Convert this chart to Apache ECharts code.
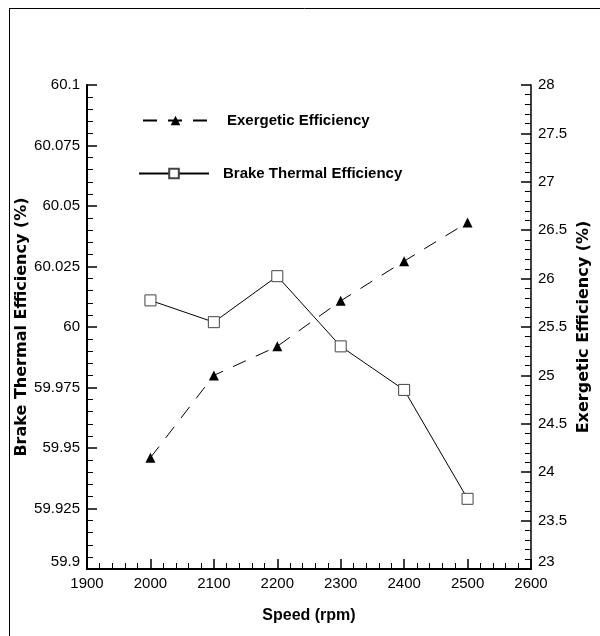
<!DOCTYPE html>
<html>
<head>
<meta charset="utf-8">
<script src="https://cdn.jsdelivr.net/npm/echarts@6/dist/echarts.min.js"></script>
<style>
  html, body { margin: 0; padding: 0; background: #fff; }
  #chart { width: 600px; height: 636px; }
</style>
</head>
<body>
<div id="chart"></div>
<script>
// Engine speed (rpm)
const speeds = [2000, 2100, 2200, 2300, 2400, 2500];
// Brake thermal efficiency (%), left axis
const brakeThermal = [60.011, 60.002, 60.021, 59.992, 59.974, 59.929];
// Exergetic efficiency (%), right axis
const exergetic = [24.15, 25.0, 25.30, 25.77, 26.18, 26.58];

const seriesNames = ['Exergetic Efficiency', 'Brake Thermal Efficiency'];

const FONT = "'Liberation Sans', Arial, Helvetica, sans-serif";
const TITLE_FONT = "'DejaVu Sans', 'Liberation Sans', sans-serif";

function pairs(xs, ys) {
  return xs.map((x, i) => [x, ys[i]]);
}

const tickLabel = { color: '#000', fontSize: 15, fontFamily: FONT };

const chart = echarts.init(document.getElementById('chart'), null, { renderer: 'canvas' });

chart.setOption({
  animation: false,
  backgroundColor: '#fff',
  grid: { left: 87, right: 69, top: 85, bottom: 67, containLabel: false },
  graphic: [
    // outer frame (top and left edges)
    { type: 'line', shape: { x1: 9, y1: 8.5, x2: 600, y2: 8.5 }, style: { stroke: '#000', lineWidth: 1 } },
    { type: 'line', shape: { x1: 9.5, y1: 8, x2: 9.5, y2: 636 }, style: { stroke: '#000', lineWidth: 1 } }
  ],
  legend: [
    {
      data: [seriesNames[0]],
      left: 142, top: 113, padding: 0,
      itemWidth: 65, itemHeight: 12,
      textStyle: { color: '#000', fontSize: 15, fontWeight: 'bold', fontFamily: FONT, padding: [0, 0, 0, 14] }
    },
    {
      data: [seriesNames[1]],
      left: 138, top: 166, padding: 0,
      itemWidth: 70, itemHeight: 12,
      textStyle: { color: '#000', fontSize: 15, fontWeight: 'bold', fontFamily: FONT, padding: [0, 0, 0, 9] }
    }
  ],
  xAxis: {
    type: 'value',
    min: 1900, max: 2600, interval: 100,
    name: 'Speed (rpm)',
    nameLocation: 'middle', nameGap: 39, nameMoveOverlap: false,
    nameTextStyle: { color: '#000', fontSize: 16, fontWeight: 'bold', fontFamily: FONT },
    axisLine: { show: true, onZero: false, lineStyle: { color: '#000', width: 2 } },
    axisTick: { show: true, inside: true, length: 10, lineStyle: { color: '#000', width: 1.5 } },
    minorTick: { show: true, splitNumber: 5, length: 6, lineStyle: { color: '#000', width: 1 } },
    axisLabel: Object.assign({
      margin: 7, showMinLabel: true, showMaxLabel: true,
      formatter: v => String(v)
    }, tickLabel),
    splitLine: { show: false }
  },
  yAxis: [
    {
      type: 'value',
      position: 'left',
      min: 59.9, max: 60.1, interval: 0.025,
      name: 'Brake Thermal Efficiency (%)',
      nameLocation: 'middle', nameGap: 57, nameRotate: 90, nameMoveOverlap: false,
      nameTextStyle: { color: '#000', fontSize: 16, fontWeight: 'bold', fontFamily: TITLE_FONT },
      axisLine: { show: true, onZero: false, lineStyle: { color: '#000', width: 2 } },
      axisTick: { show: true, inside: true, length: 10, lineStyle: { color: '#000', width: 1.5 } },
      minorTick: { show: true, splitNumber: 5, length: 6, lineStyle: { color: '#000', width: 1 } },
      axisLabel: Object.assign({
        margin: 7, verticalAlignMinLabel: 'bottom',
        formatter: v => String(parseFloat(v.toFixed(3)))
      }, tickLabel),
      splitLine: { show: false }
    },
    {
      type: 'value',
      position: 'right',
      min: 23, max: 28, interval: 0.5,
      name: 'Exergetic Efficiency (%)',
      nameLocation: 'middle', nameGap: 45, nameRotate: 90, nameMoveOverlap: false,
      nameTextStyle: { color: '#000', fontSize: 16, fontWeight: 'bold', fontFamily: TITLE_FONT },
      axisLine: { show: true, onZero: false, lineStyle: { color: '#000', width: 1.5 } },
      axisTick: { show: true, inside: true, length: 10, lineStyle: { color: '#000', width: 1.5 } },
      minorTick: { show: true, splitNumber: 5, length: 6, lineStyle: { color: '#000', width: 1 } },
      axisLabel: Object.assign({
        margin: 7, verticalAlignMinLabel: 'bottom',
        formatter: v => String(parseFloat(v.toFixed(2)))
      }, tickLabel),
      splitLine: { show: false }
    }
  ],
  series: [
    {
      name: seriesNames[0],
      type: 'line',
      yAxisIndex: 1,
      data: pairs(speeds, exergetic),
      symbol: 'triangle',
      symbolSize: 10,
      itemStyle: { color: '#000' },
      lineStyle: { color: '#000', width: 1, type: [14, 11] },
      z: 3
    },
    {
      name: seriesNames[1],
      type: 'line',
      yAxisIndex: 0,
      data: pairs(speeds, brakeThermal),
      symbol: 'rect',
      symbolSize: 11,
      showAllSymbol: true,
      itemStyle: { color: '#fff', borderColor: '#444', borderWidth: 1 },
      lineStyle: { color: '#000', width: 1, type: 'solid' },
      z: 2
    }
  ]
});
</script>
</body>
</html>
